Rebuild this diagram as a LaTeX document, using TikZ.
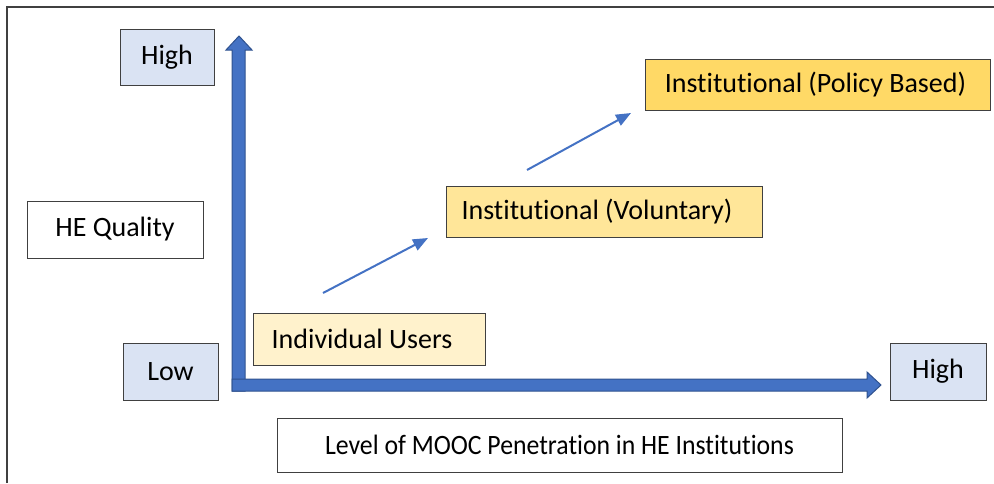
\documentclass[tikz,border=0pt]{standalone}
\usepackage{fontspec}
\setmainfont{Carlito}[RawFeature={-liga;-clig;-calt;-dlig}]
\usetikzlibrary{arrows.meta}
\definecolor{axisblue}{HTML}{4472C4}
\definecolor{axisedge}{HTML}{2F528F}
\definecolor{lblue}{HTML}{DAE3F3}
\definecolor{yel1}{HTML}{FFF2CC}
\definecolor{yel2}{HTML}{FFE699}
\definecolor{yel3}{HTML}{FFD966}
\definecolor{boxedge}{HTML}{404040}
\begin{document}
\begin{tikzpicture}[x=1pt,y=-1pt,
  box/.style={draw=boxedge,line width=1pt,inner sep=0pt,font=\fontsize{28}{32}\selectfont},
  lvl/.style={box,fill=lblue},
  prog/.style={draw=axisblue,line width=2pt,-{Triangle[length=15pt,width=12pt]}}]
\useasboundingbox (0,0) rectangle (994,483);
% frame
\draw[line width=1.4pt,draw=black!75] (7,483) -- (7,7) -- (994,7);
% axes (block arrows)
\draw[fill=axisblue,draw=axisedge,line width=1pt]
  (232,391) -- (232,50) -- (226,50) -- (239,36) -- (252,50) -- (245,50) -- (245,391) -- cycle;
\draw[fill=axisblue,draw=axisedge,line width=1pt]
  (232,379) -- (867,379) -- (867,372) -- (881,385) -- (867,398) -- (867,391) -- (232,391) -- cycle;
% level boxes
\node[lvl,minimum width=94pt,minimum height=56pt] (yhigh) at (167,57) {High};
\node[lvl,minimum width=95pt,minimum height=57pt] (ylow) at (170.5,371.5) {Low};
\node[lvl,minimum width=96pt,minimum height=57pt] (xhigh) at (938,371.5) {High};
\node[box,fill=white,minimum width=176pt,minimum height=57pt] (qual) at (115,229.5) {HE Quality};
\node[box,fill=white,minimum width=565pt,minimum height=54pt] (mooc) at (559.5,445) {\scalebox{0.92}[1]{Level of MOOC Penetration in HE Institutions}};
% stages
\node[box,fill=yel1,minimum width=232pt,minimum height=52pt] (indiv) at (369,339) {\hspace*{-14pt}Individual Users};
\node[box,fill=yel2,minimum width=316pt,minimum height=51pt] (vol) at (604,211.5) {\hspace*{-14pt}Institutional (Voluntary)};
\node[box,fill=yel3,minimum width=345pt,minimum height=51pt] (pol) at (817.5,84.5) {\hspace*{-4pt}Institutional (Policy Based)};
% progression arrows
\coordinate (a1s) at (323,293);
\coordinate (a1e) at (428,238);
\coordinate (a2s) at (527,170);
\coordinate (a2e) at (631,113);
\draw[prog] (a1s) -- (a1e);
\draw[prog] (a2s) -- (a2e);
\end{tikzpicture}
\end{document}
